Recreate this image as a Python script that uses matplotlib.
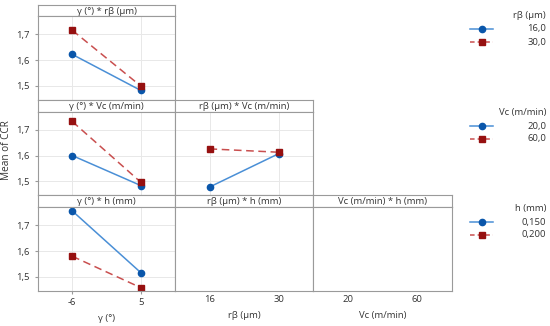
import matplotlib
matplotlib.use('Agg')
import matplotlib.pyplot as plt

plt.rcParams['font.family'] = ['Open Sans', 'DejaVu Sans']

# Factor levels (tick labels)
gamma_levels = ['-6', '5']
rb_levels = ['16', '30']
vc_levels = ['20', '60']

# Interaction means of CCR
gamma_rb_16 = [1.622, 1.483]
gamma_rb_30 = [1.715, 1.500]
gamma_vc_20 = [1.600, 1.483]
gamma_vc_60 = [1.733, 1.496]
rb_vc_20 = [1.477, 1.607]
rb_vc_60 = [1.626, 1.613]
gamma_h_150 = [1.755, 1.517]
gamma_h_200 = [1.580, 1.459]

legend_titles = ['rβ (μm)', 'Vc (m/min)', 'h (mm)']
legend_labels = [['16,0', '30,0'], ['20,0', '60,0'], ['0,150', '0,200']]

blue_line, blue_mk = '#4a8fd6', '#0a56aa'
red_line, red_mk = '#c94f4f', '#961010'
edge = '#9a9a9a'
fs = 6.8

W, H = 550, 326
fig = plt.figure(figsize=(5.5, 3.26), dpi=100)


def px(x0, y0, x1, y1):
    return [x0 / W, 1 - y1 / H, (x1 - x0) / W, (y1 - y0) / H]


cols = [(38, 175), (175, 313), (313, 452)]
rows = [(5, 16, 100), (100, 112, 195), (195, 207, 291)]
titles = {(0, 0): 'γ (°) * rβ (μm)', (1, 0): 'γ (°) * Vc (m/min)',
          (1, 1): 'rβ (μm) * Vc (m/min)', (2, 0): 'γ (°) * h (mm)',
          (2, 1): 'rβ (μm) * h (mm)', (2, 2): 'Vc (m/min) * h (mm)'}
series = {(0, 0): (gamma_rb_16, gamma_rb_30), (1, 0): (gamma_vc_20, gamma_vc_60),
          (1, 1): (rb_vc_20, rb_vc_60), (2, 0): (gamma_h_150, gamma_h_200)}
xticks = [gamma_levels, rb_levels, vc_levels]
xlabels = ['γ (°)', 'rβ (μm)', 'Vc (m/min)']

for (r, c), title in titles.items():
    st, sb, pb = rows[r]
    x0, x1 = cols[c]
    sax = fig.add_axes(px(x0, st, x1, sb))
    sax.set_xticks([]); sax.set_yticks([])
    for s in sax.spines.values():
        s.set_color(edge); s.set_linewidth(0.8)
    sax.text(0.5, 0.45, title, ha='center', va='center', fontsize=fs,
             color='#333333', transform=sax.transAxes)

    ax = fig.add_axes(px(x0, sb, x1, pb))
    ax.set_xlim(-0.5, 1.5)
    ax.set_ylim(1.446, 1.77)
    for s in ax.spines.values():
        s.set_color(edge); s.set_linewidth(0.8)
    ax.tick_params(length=2, color=edge, labelsize=fs, labelcolor='#333333', pad=3)
    ax.tick_params(axis='y', pad=4)
    ax.set_yticks([1.5, 1.6, 1.7])
    ax.set_xticks([0, 1])
    if c == 0:
        ax.set_yticklabels(['1,5', '1,6', '1,7'])
    else:
        ax.tick_params(axis='y', length=0, labelleft=False)
    if r == 2:
        ax.set_xticklabels(xticks[c])
        ax.set_xlabel(xlabels[c], fontsize=fs, color='#333333', labelpad=5)
    else:
        ax.tick_params(axis='x', length=0, labelbottom=False)
    if (r, c) in series:
        ax.grid(True, color='#e8e8e8', linewidth=0.7)
        ax.set_axisbelow(True)
        lo, hi = series[(r, c)]
        ax.plot([0, 1], lo, color=blue_line, lw=1.1, marker='o', ms=4.5,
                mfc=blue_mk, mec=blue_mk)
        ax.plot([0, 1], hi, color=red_line, lw=1.1, ls=(0, (5, 3)), marker='s',
                ms=4.2, mfc=red_mk, mec=red_mk)
    else:
        ax.tick_params(axis='x', length=0)

fig.text(7 / W, 1 - 150 / H, 'Mean of CCR', rotation=90, ha='center',
         va='center', fontsize=7.2, color='#333333')

# legends
leg_y = [15, 112, 208]
for i, ty in enumerate(leg_y):
    lax = fig.add_axes(px(462, ty - 8, 550, ty + 32))
    lax.set_xlim(0, 88); lax.set_ylim(40, 0); lax.axis('off')
    lax.text(84, 8, legend_titles[i], ha='right', va='center', fontsize=fs,
             color='#333333')
    lab_lo, lab_hi = legend_labels[i]
    lax.plot([8, 31], [22, 22], color=blue_line, lw=1.1)
    lax.plot([19.5], [22], marker='o', ms=4.5, color=blue_mk)
    lax.plot([8, 31], [35, 35], color=red_line, lw=1.1, ls=(0, (3, 2)))
    lax.plot([19.5], [35], marker='s', ms=4.2, color=red_mk)
    lax.text(84, 22, lab_lo, ha='right', va='center', fontsize=fs, color='#333333')
    lax.text(84, 35, lab_hi, ha='right', va='center', fontsize=fs, color='#333333')

fig.savefig('out.png', dpi=100)
